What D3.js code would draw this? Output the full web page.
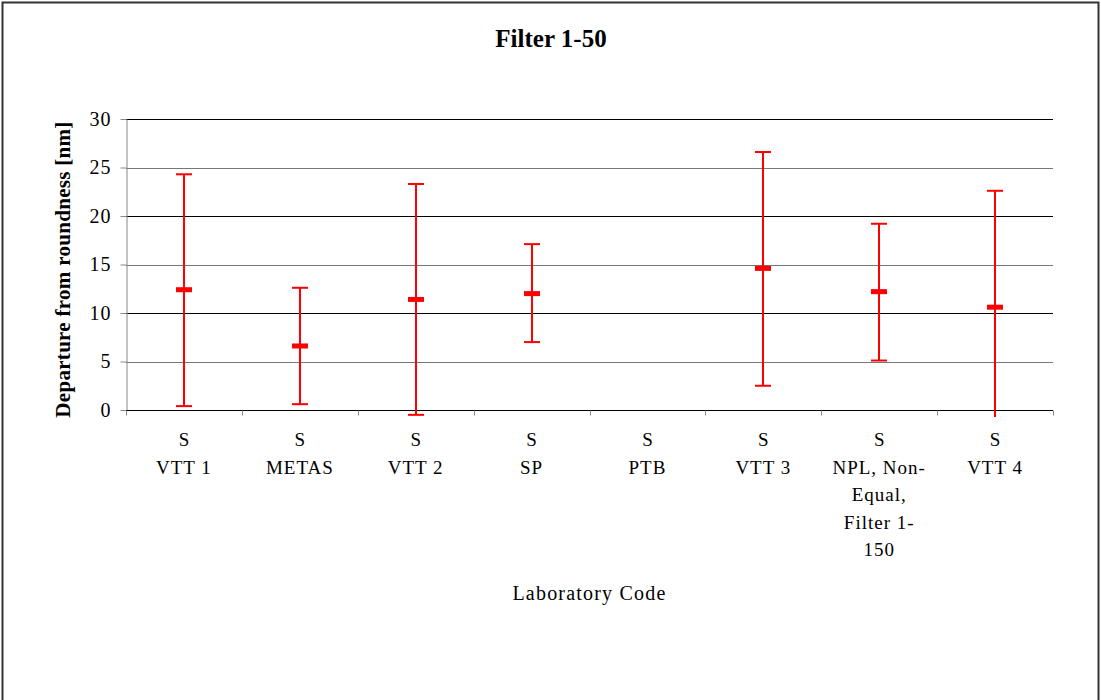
<!DOCTYPE html>
<html>
<head>
<meta charset="utf-8">
<script src="https://cdn.jsdelivr.net/npm/d3@7"></script>
<style>
  html, body { margin: 0; padding: 0; background: #fff; }
  svg { display: block; }
  text { font-family: "Liberation Serif", "Times New Roman", serif; }
</style>
</head>
<body>
<svg id="chart" width="1101" height="700"></svg>
<script>
// Laboratory results: mean departure from roundness with expanded uncertainty
const labCodes = ["S\nVTT 1", "S\nMETAS", "S\nVTT 2", "S\nSP", "S\nPTB", "S\nVTT 3", "S\nNPL, Non-\nEqual,\nFilter 1-\n150", "S\nVTT 4"];
const meanValues = [12.4, 6.6, 11.4, 12.0, null, 14.6, 12.2, 10.6];
const upperValues = [24.3, 12.6, 23.3, 17.1, null, 26.6, 19.2, 22.6];
const lowerValues = [0.4, 0.6, -0.5, 7.0, null, 2.5, 5.1, -1.4];
const yTicks = [0, 5, 10, 15, 20, 25, 30];

const svg = d3.select("#chart");
const margin = { left: 126, right: 1053, top: 119, bottom: 410 };

const x = d3.scaleBand().domain(labCodes).range([margin.left, margin.right]).padding(0);
const y = d3.scaleLinear().domain([0, 30]).range([margin.bottom, margin.top]);

// Outer frame
svg.append("rect")
  .attr("x", 2.5).attr("y", 2.5).attr("width", 1096).attr("height", 720)
  .attr("fill", "none").attr("stroke", "#333").attr("stroke-width", 2);

// Title
svg.append("text")
  .attr("x", 551).attr("y", 47)
  .attr("text-anchor", "middle")
  .attr("font-size", 25).attr("font-weight", "bold")
  .text("Filter 1-50");

// Horizontal gridlines
svg.append("g").selectAll("line")
  .data(yTicks.filter(d => d > 0))
  .join("line")
  .attr("x1", margin.left).attr("x2", margin.right)
  .attr("y1", d => Math.round(y(d)) + 0.5).attr("y2", d => Math.round(y(d)) + 0.5)
  .attr("stroke", d => d % 10 === 0 ? "#000" : "#777")
  .attr("stroke-width", 1);

// Y axis
const yAxis = svg.append("g")
  .attr("transform", `translate(${margin.left + 0.5},0)`)
  .call(d3.axisLeft(y).tickValues(yTicks).tickSize(6).tickSizeOuter(0).tickPadding(9));
yAxis.select(".domain").attr("stroke", "#888");
yAxis.selectAll(".tick line").attr("stroke", "#888");
yAxis.selectAll(".tick text")
  .attr("font-size", 20).attr("fill", "#000")
  .attr("letter-spacing", 1);

// X axis line and ticks between categories
const xAxisG = svg.append("g").attr("transform", `translate(0,${margin.bottom + 0.5})`);
xAxisG.append("line")
  .attr("x1", margin.left).attr("x2", margin.right)
  .attr("stroke", "#000");
const boundaries = labCodes.map(c => x(c)).concat([x.range()[1]]);
xAxisG.selectAll("line.tk").data(boundaries).join("line")
  .attr("class", "tk")
  .attr("x1", d => Math.round(d) + 0.5).attr("x2", d => Math.round(d) + 0.5)
  .attr("y1", 0).attr("y2", 5)
  .attr("stroke", "#888");

// Category labels (multi-line)
const lineH = 27.5;
svg.append("g").selectAll("text")
  .data(labCodes)
  .join("text")
  .attr("x", d => x(d) + x.bandwidth() / 2)
  .attr("y", 446)
  .attr("text-anchor", "middle")
  .attr("font-size", 19)
  .each(function (d) {
    const t = d3.select(this);
    d.split("\n").forEach((ln, i) => {
      t.append("tspan")
        .attr("x", x(d) + x.bandwidth() / 2)
        .attr("dy", i === 0 ? 0 : lineH)
        .attr("letter-spacing", ln.length > 1 ? 1 : 0)
        .text(ln);
    });
  });

// Axis titles
svg.append("text")
  .attr("transform", `translate(70,${(margin.top + margin.bottom) / 2 + 5}) rotate(-90)`)
  .attr("text-anchor", "middle")
  .attr("font-size", 21).attr("font-weight", "bold")
  .attr("letter-spacing", 0.3)
  .text("Departure from roundness [nm]");

svg.append("text")
  .attr("x", (margin.left + margin.right) / 2).attr("y", 600)
  .attr("text-anchor", "middle")
  .attr("font-size", 20)
  .attr("letter-spacing", 1.2)
  .text("Laboratory Code");

// Error bars, clipped a few pixels below the value axis
svg.append("clipPath").attr("id", "plotClip")
  .append("rect")
  .attr("x", margin.left).attr("y", 0)
  .attr("width", margin.right - margin.left)
  .attr("height", margin.bottom + 7);

const rows = labCodes.map((c, i) => ({ c, m: meanValues[i], hi: upperValues[i], lo: lowerValues[i] }))
  .filter(r => r.m !== null);

const bars = svg.append("g").attr("clip-path", "url(#plotClip)")
  .selectAll("g").data(rows).join("g")
  .attr("transform", r => `translate(${Math.round(x(r.c) + x.bandwidth() / 2)},0)`);

const red = "#ff0000";
bars.append("line")
  .attr("x1", 0).attr("x2", 0)
  .attr("y1", r => y(r.hi)).attr("y2", r => y(r.lo))
  .attr("stroke", red).attr("stroke-width", 2);
bars.append("line")
  .attr("x1", -8).attr("x2", 8)
  .attr("y1", r => y(r.hi)).attr("y2", r => y(r.hi))
  .attr("stroke", red).attr("stroke-width", 2);
bars.append("line")
  .attr("x1", -8).attr("x2", 8)
  .attr("y1", r => y(r.lo)).attr("y2", r => y(r.lo))
  .attr("stroke", red).attr("stroke-width", 2);
bars.append("rect")
  .attr("x", -8).attr("width", 16)
  .attr("y", r => y(r.m) - 2.5).attr("height", 5)
  .attr("fill", red);
</script>
</body>
</html>
